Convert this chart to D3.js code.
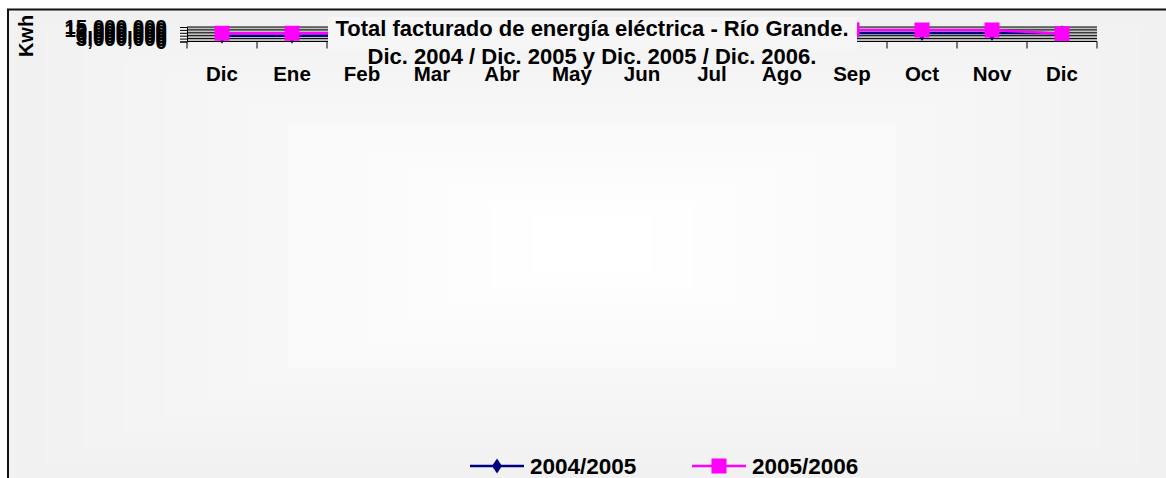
<!DOCTYPE html>
<html>
<head>
<meta charset="utf-8">
<script src="https://cdn.jsdelivr.net/npm/d3@7"></script>
<style>
  html, body { margin: 0; padding: 0; background: #fff; }
  svg { display: block; font-family: "Liberation Sans", Arial, sans-serif; font-weight: bold; }
</style>
</head>
<body>
<svg id="chart" width="1166" height="478"></svg>
<script>
// months (Dic 2004 .. Dic 2005 / Dic 2005 .. Dic 2006)
const months = ["Dic", "Ene", "Feb", "Mar", "Abr", "May", "Jun", "Jul", "Ago", "Sep", "Oct", "Nov", "Dic"]
// Kwh
const serie0405 = [6000000, 6000000, 6200000, 6800000, 7600000, 8400000, 9000000, 9300000, 9200000, 8900000, 8800000, 8800000, 8500000]
const serie0506 = [8500000, 8500000, 8700000, 9400000, 10300000, 11200000, 11900000, 12300000, 12200000, 12000000, 11900000, 11900000, 8000000]
const yTicks = [0, 3000000, 6000000, 9000000, 12000000, 15000000]
const seriesNames = ["2004/2005", "2005/2006"]

const svg = d3.select("#chart")
const W = 1166, H = 478

// chart area background: rectangular "from center" gradient
const bg = svg.append("g")
const steps = 14
const cx = 592, cy = 245
const grey = d3.interpolateRgb("#f1f1f1", "#ffffff")
d3.range(steps).forEach((i) => {
    const t = i / (steps - 1)
    const hw = 590 * (1 - t) + 60 * t
    const hh = 235 * (1 - t) + 28 * t
    bg.append("rect")
        .attr("x", Math.max(8, cx - hw))
        .attr("y", Math.max(10, cy - hh))
        .attr("width", Math.min(W, cx + hw) - Math.max(8, cx - hw))
        .attr("height", Math.min(H, cy + hh) - Math.max(10, cy - hh))
        .attr("fill", grey(t))
})
// border (top + left visible)
svg.append("path")
    .attr("d", `M8,${H + 5}V9.5H${W + 5}`)
    .attr("fill", "none")
    .attr("stroke", "#111")
    .attr("stroke-width", 2)

// plot area
const plot = { left: 187, right: 1097, top: 27, bottom: 41.5 }
const x = d3.scaleBand().domain(d3.range(months.length)).range([plot.left, plot.right])
const y = d3.scaleLinear().domain([0, 15000000]).range([plot.bottom, plot.top])

svg.append("rect")
    .attr("x", plot.left).attr("y", plot.top)
    .attr("width", plot.right - plot.left).attr("height", plot.bottom - plot.top)
    .attr("fill", "#c0c0c0")

// y axis with gridlines
const yAxis = svg.append("g")
    .attr("transform", `translate(${plot.left},0)`)
    .call(d3.axisLeft(y).tickValues(yTicks).tickFormat(d3.format(",")).tickSize(7).tickPadding(13))
yAxis.select(".domain").attr("stroke", "#000")
yAxis.selectAll(".tick line").attr("stroke", "#000")
yAxis.selectAll(".tick text").attr("fill", "#000").style("font-size", "20.5px").style("font-weight", "bold")
    .style("font-family", '"Liberation Sans", Arial, sans-serif')

svg.append("g").selectAll("line").data(yTicks).join("line")
    .attr("x1", plot.left).attr("x2", plot.right)
    .attr("y1", (d) => y(d)).attr("y2", (d) => y(d))
    .attr("stroke", "#000").attr("stroke-width", 1)

// series
const line = d3.line().x((d, i) => x(i) + x.bandwidth() / 2).y((d) => y(d))
const diamond = "M0,-8L5,0L0,8L-5,0Z"
const square = "M-7.5,-7.5H7.5V7.5H-7.5Z"

const series = [
    { name: seriesNames[0], values: serie0405, color: "#000080", marker: diamond, width: 2.5 },
    { name: seriesNames[1], values: serie0506, color: "#ff00ff", marker: square, width: 2.5 },
]
series.forEach((s) => {
    const g = svg.append("g")
    g.append("path").datum(s.values)
        .attr("d", line)
        .attr("fill", "none")
        .attr("stroke", s.color)
        .attr("stroke-width", s.width)
    g.selectAll("path.m").data(s.values).join("path")
        .attr("class", "m")
        .attr("d", s.marker)
        .attr("transform", (d, i) => `translate(${x(i) + x.bandwidth() / 2},${y(d)})`)
        .attr("fill", s.color)
})

// x axis
const xAxis = svg.append("g")
    .attr("transform", `translate(0,${plot.bottom})`)
xAxis.append("line")
    .attr("x1", plot.left).attr("x2", plot.right)
    .attr("stroke", "#000")
xAxis.selectAll("line.tk").data(d3.range(months.length + 1)).join("line")
    .attr("class", "tk")
    .attr("x1", (i) => plot.left + i * x.step()).attr("x2", (i) => plot.left + i * x.step())
    .attr("y1", 0).attr("y2", 7)
    .attr("stroke", "#000")

// title box covering the middle of the plot
svg.append("rect")
    .attr("x", 328).attr("y", 17).attr("width", 529).attr("height", 34)
    .attr("fill", "#f6f6f6")

svg.append("text")
    .attr("x", 592).attr("y", 36)
    .attr("text-anchor", "middle")
    .style("font-size", "22px")
    .text("Total facturado de energía eléctrica - Río Grande.")
svg.append("text")
    .attr("x", 592).attr("y", 64)
    .attr("text-anchor", "middle")
    .style("font-size", "22px")
    .text("Dic. 2004 / Dic. 2005 y Dic. 2005 / Dic. 2006.")

// month labels
svg.append("g").selectAll("text").data(months).join("text")
    .attr("x", (d, i) => x(i) + x.bandwidth() / 2)
    .attr("y", 81)
    .attr("text-anchor", "middle")
    .style("font-size", "20.5px")
    .text((d) => d)

// y axis title
svg.append("text")
    .attr("transform", "translate(33,36) rotate(-90)")
    .attr("text-anchor", "middle")
    .style("font-size", "20px")
    .text("Kwh")

// legend
const legendX = [470, 692]
const legend = svg.append("g")
series.forEach((s, i) => {
    const g = legend.append("g").attr("transform", `translate(${legendX[i]},466)`)
    g.append("line").attr("x1", 0).attr("x2", 54)
        .attr("stroke", s.color).attr("stroke-width", 2.5)
    g.append("path").attr("d", i === 0 ? "M0,-7.5L5,0L0,7.5L-5,0Z" : s.marker)
        .attr("transform", "translate(27,0)")
        .attr("fill", s.color)
    g.append("text").attr("x", 60).attr("y", 8)
        .style("font-size", "22.5px")
        .text(s.name)
})
</script>
</body>
</html>
